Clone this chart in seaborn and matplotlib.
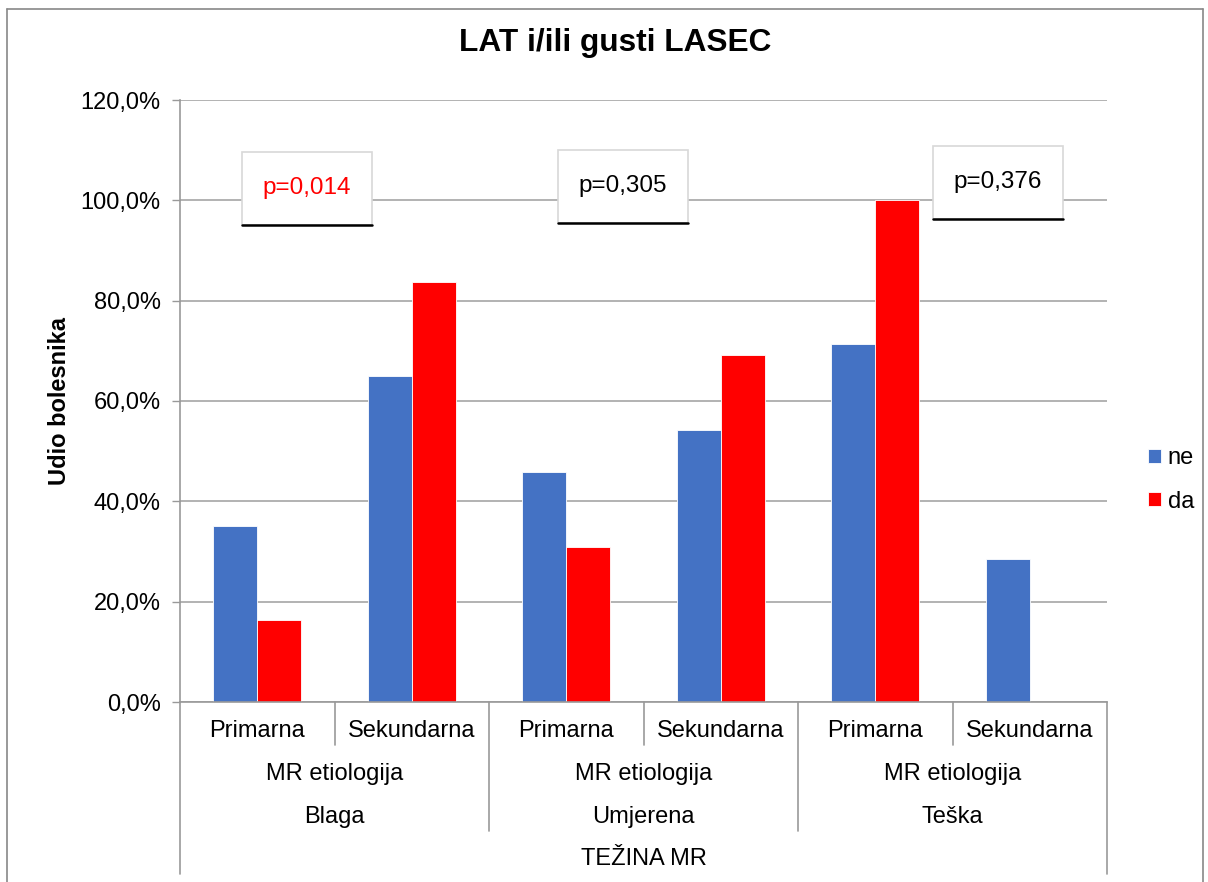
import numpy as np
import pandas as pd
import matplotlib
matplotlib.use("Agg")
import matplotlib.pyplot as plt
import matplotlib.transforms as mtransforms
from matplotlib.patches import Rectangle
import seaborn as sns

# Podaci procitani sa slike
tezina = ["Blaga", "Umjerena", "Teška"]
etiologija = ["Primarna", "Sekundarna"]
udio_ne = [35.0, 65.0, 45.8, 54.2, 71.4, 28.6]
udio_da = [16.3, 83.7, 30.8, 69.2, 100.0, 0.0]
p_vrijednosti = ["p=0,014", "p=0,305", "p=0,376"]
p_boje = ["#FF0000", "black", "black"]
y_ticks = [0, 20, 40, 60, 80, 100, 120]

kategorije = [f"{t}-{e}" for t in tezina for e in etiologija]
df = pd.DataFrame({
    "kategorija": kategorije * 2,
    "grupa": ["ne"] * 6 + ["da"] * 6,
    "udio": udio_ne + udio_da,
})

sns.set_style("white")
plt.rcParams["font.family"] = ["Liberation Sans", "DejaVu Sans"]
plt.rcParams["text.color"] = "black"
plt.rcParams["axes.labelcolor"] = "black"
plt.rcParams["ytick.color"] = "black"

FS = 17
W, H = 1208, 882
fig = plt.figure(figsize=(W / 100, H / 100), dpi=100)
ax = fig.add_axes([180 / W, 1 - 702 / H, 927 / W, 602 / H])

sns.barplot(data=df, x="kategorija", y="udio", hue="grupa", order=kategorije,
            hue_order=["ne", "da"], palette={"ne": "#4472C4", "da": "#FF0000"},
            saturation=1, width=0.57, edgecolor="white", linewidth=0.6, ax=ax)

ax.set_xlim(-0.5, 5.5)
ax.set_ylim(0, 120)
ax.set_yticks(y_ticks)
ax.set_yticklabels([f"{v:.1f}%".replace(".", ",") for v in y_ticks], fontsize=FS)
ax.tick_params(axis="y", length=6, color="#999999", width=1, pad=8, direction="out",
               left=True, labelcolor="black")
ax.yaxis.grid(True, color="#A6A6A6", linewidth=1.2)
ax.set_axisbelow(True)
for s in ["top", "right"]:
    ax.spines[s].set_visible(False)
for s in ["left", "bottom"]:
    ax.spines[s].set_color("#999999")
    ax.spines[s].set_linewidth(1.2)
ax.set_xticks([])
ax.set_xlabel("")
ax.set_ylabel("Udio bolesnika", fontsize=FS, fontweight="bold", labelpad=7, color="black")

# visestruke kategorije ispod osi
trans = mtransforms.blended_transform_factory(ax.transData, fig.transFigure)
def fy(py):
    return 1 - py / H

for i, k in enumerate(kategorije):
    ax.text(i, fy(731), k.split("-")[1], transform=trans, ha="center", va="center", fontsize=FS)
for g, t in enumerate(tezina):
    ax.text(2 * g + 0.5, fy(774), "MR etiologija", transform=trans, ha="center", va="center", fontsize=FS)
    ax.text(2 * g + 0.5, fy(817), t, transform=trans, ha="center", va="center", fontsize=FS)
ax.text(2.5, fy(859), "TEŽINA MR", transform=trans, ha="center", va="center", fontsize=FS)

for x in [0.5, 2.5, 4.5]:
    ax.plot([x, x], [fy(702), fy(745)], transform=trans, color="#999999", lw=1.2, clip_on=False)
for x in [1.5, 3.5]:
    ax.plot([x, x], [fy(702), fy(831)], transform=trans, color="#999999", lw=1.2, clip_on=False)
for x in [-0.5, 5.5]:
    ax.plot([x, x], [fy(702), fy(874)], transform=trans, color="#999999", lw=1.2, clip_on=False)

# okviri s p vrijednostima
box_x = [0.322, 2.365, 4.795]
box_y = [102.4, 102.8, 103.6]
bw, bh = 130 / 154.5, 73 / 5.017
for bx, by, txt, c in zip(box_x, box_y, p_vrijednosti, p_boje):
    ax.add_patch(Rectangle((bx - bw / 2, by - bh / 2), bw, bh, facecolor="white",
                           edgecolor="#D8D8D8", linewidth=1.2, zorder=5, clip_on=False))
    ax.plot([bx - bw / 2, bx + bw / 2], [by - bh / 2, by - bh / 2], color="black",
            lw=1.8, zorder=6, clip_on=False)
    ax.text(bx, by, txt, ha="center", va="center", fontsize=17.5, color=c, zorder=7)

# legenda
sns.move_legend(ax, "center left", bbox_to_anchor=(1.044, 0.369), frameon=False, title=None,
                fontsize=FS, handlelength=0.55, handleheight=0.55, handletextpad=0.3,
                labelspacing=0.92, borderpad=0, borderaxespad=0)

fig.suptitle("LAT i/ili gusti LASEC", fontsize=22.8, fontweight="bold",
             x=615 / W, y=1 - 43 / H, va="center")

# okvir grafikona
fig.add_artist(plt.Line2D([7 / W, 7 / W], [0, fy(9)], color="#888888", lw=1.2))
fig.add_artist(plt.Line2D([7 / W, 1203 / W], [fy(9), fy(9)], color="#888888", lw=1.2))
fig.add_artist(plt.Line2D([1203 / W, 1203 / W], [0, fy(9)], color="#888888", lw=1.2))

fig.savefig("out.png", dpi=100)
